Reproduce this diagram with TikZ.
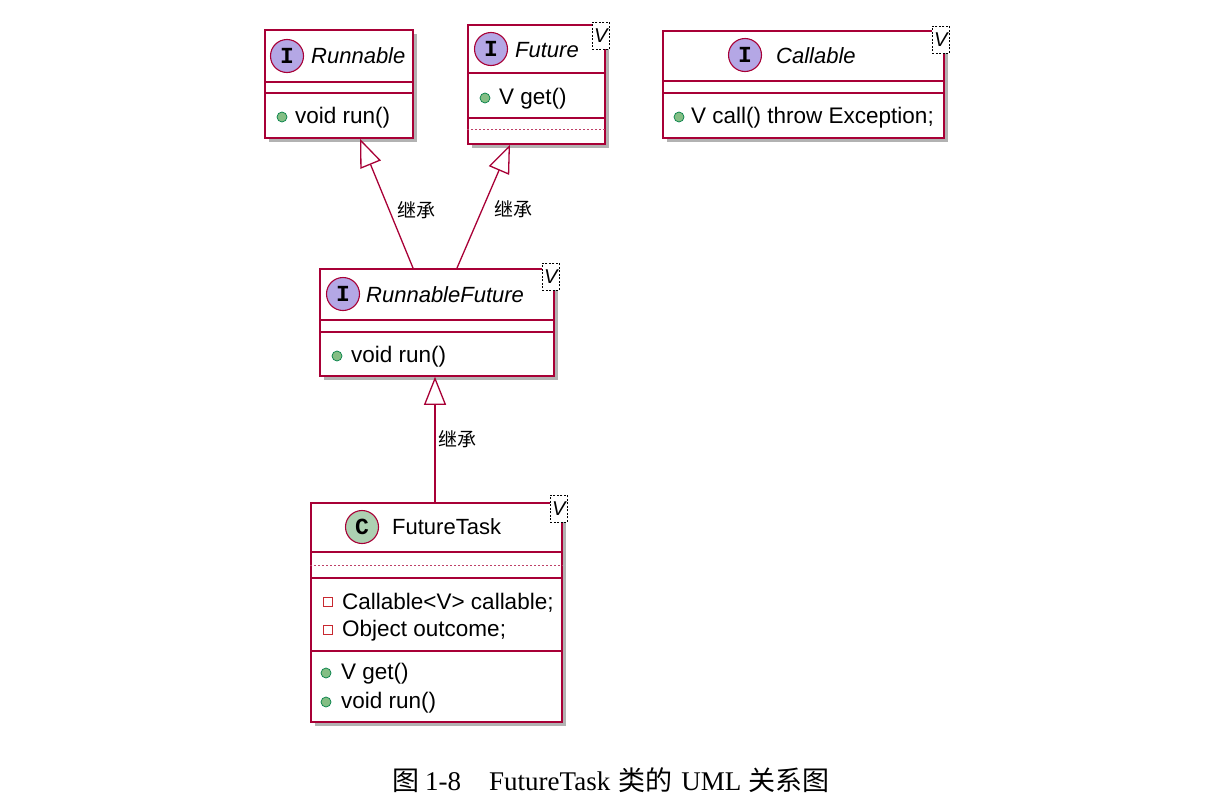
\documentclass[tikz,border=0pt]{standalone}
\usepackage{fontspec}
\setmainfont{Liberation Sans}
\newfontfamily\cjk{Noto Sans CJK SC}
\newfontfamily\capfont{Liberation Serif}
\newfontfamily\badgefont{Liberation Mono}
\usetikzlibrary{arrows.meta,calc,shadows}
\definecolor{umlred}{HTML}{A80036}
\definecolor{ifill}{HTML}{B4A7E5}
\definecolor{cfill}{HTML}{ADD1B2}
\definecolor{pubfill}{HTML}{84BE84}
\definecolor{pubdraw}{HTML}{038048}
\definecolor{privdraw}{HTML}{C82930}
\newcommand{\capcjk}{\cjk\fontsize{27}{27}\selectfont}

\tikzset{
	classbox/.style={draw=umlred, fill=white, line width=1.8pt, anchor=north west, inner sep=0pt,
		drop shadow={shadow xshift=4pt, shadow yshift=-4pt, opacity=.3, fill=black}},
	cline/.style={umlred, line width=1.5pt},
	dline/.style={umlred!75, line width=1pt, dash pattern=on 2pt off 2pt},
	badge/.style={circle, draw=umlred, line width=1.1pt, minimum size=33pt, inner sep=0pt,
		font=\badgefont\bfseries\fontsize{23}{23}\selectfont},
	clsname/.style={anchor=west, inner sep=0pt, font=\itshape\fontsize{22}{26}\selectfont},
	member/.style={anchor=west, inner sep=0pt, font=\fontsize{22.5}{26}\selectfont},
	pub/.style={circle, draw=pubdraw, fill=pubfill, minimum size=10pt, inner sep=0pt, line width=0.7pt},
	priv/.style={rectangle, draw=privdraw, fill=white, minimum size=9pt, inner sep=0pt, line width=1pt},
	tmpl/.style={draw=black, dash pattern=on 2pt off 1.5pt, line width=0.8pt, fill=white, anchor=north west,
		minimum width=17pt, minimum height=27pt, inner sep=0pt, font=\itshape\fontsize{20}{20}\selectfont},
	extends/.style={umlred, line width=1.3pt, -{Triangle[length=28pt, width=22pt, fill=white]}},
	jc/.style={anchor=west, inner sep=0pt, text=black, font=\cjk\fontsize{19}{19}\selectfont},
}

\begin{document}
\begin{tikzpicture}[x=1pt, y=-1pt]
\useasboundingbox (0,0) rectangle (1212,806);

% Runnable
\node[classbox, minimum width=148pt, minimum height=108pt] (runnable) at (264,29) {};
\draw[cline] ([yshift=-53pt]runnable.north west) -- ([yshift=-53pt]runnable.north east);
\draw[cline] ([yshift=-64pt]runnable.north west) -- ([yshift=-64pt]runnable.north east);
\node[badge, fill=ifill] (runnableI) at (287,56) {I};
\node[clsname] (runnableN) at (311,56) {Runnable};
\node[pub] (runnableM) at (282,117) {};
\node[member] at (295,118) {void run()};

% Future
\node[classbox, minimum width=137pt, minimum height=119pt] (future) at (467,24) {};
\draw[cline] ([yshift=-49pt]future.north west) -- ([yshift=-49pt]future.north east);
\draw[cline] ([yshift=-94pt]future.north west) -- ([yshift=-94pt]future.north east);
\draw[dline] ([yshift=-105pt]future.north west) -- ([yshift=-105pt]future.north east);
\node[badge, fill=ifill] (futureI) at (491,49) {I};
\node[clsname] (futureN) at (515,50) {Future};
\node[pub] (futureM) at (485,98) {};
\node[member] at (499,99) {V get()};
\node[tmpl] (futureV) at (592,22) {V};

% Callable
\node[classbox, minimum width=281pt, minimum height=107pt] (callable) at (662,30) {};
\draw[cline] ([yshift=-51pt]callable.north west) -- ([yshift=-51pt]callable.north east);
\draw[cline] ([yshift=-63pt]callable.north west) -- ([yshift=-63pt]callable.north east);
\node[badge, fill=ifill] (callableI) at (745,55) {I};
\node[clsname] (callableN) at (776,56) {Callable};
\node[pub] (callableM) at (679,117) {};
\node[member] at (691,118) {V call() throw Exception;};
\node[tmpl] (callableV) at (932,26) {V};

% RunnableFuture
\node[classbox, minimum width=234pt, minimum height=107pt] (rf) at (319,268) {};
\draw[cline] ([yshift=-52pt]rf.north west) -- ([yshift=-52pt]rf.north east);
\draw[cline] ([yshift=-64pt]rf.north west) -- ([yshift=-64pt]rf.north east);
\node[badge, fill=ifill] (rfI) at (343,294) {I};
\node[clsname] (rfN) at (366,295) {RunnableFuture};
\node[pub] (rfM) at (337,356) {};
\node[member] at (351,357) {void run()};
\node[tmpl] (rfV) at (542,263) {V};

% FutureTask
\node[classbox, minimum width=251pt, minimum height=219pt] (ft) at (310,502) {};
\draw[cline] ([yshift=-50pt]ft.north west) -- ([yshift=-50pt]ft.north east);
\draw[dline] ([yshift=-63pt]ft.north west) -- ([yshift=-63pt]ft.north east);
\draw[cline] ([yshift=-76pt]ft.north west) -- ([yshift=-76pt]ft.north east);
\draw[cline] ([yshift=-149pt]ft.north west) -- ([yshift=-149pt]ft.north east);
\node[badge, fill=cfill] (ftC) at (362,527) {C};
\node[clsname, font=\fontsize{22}{26}\selectfont] (ftN) at (392,527) {FutureTask};
\node[priv] (ftF1) at (328,602) {};
\node[member] at (342,603) {Callable<V> callable;};
\node[priv] (ftF2) at (328,630) {};
\node[member] at (342,631) {Object outcome;};
\node[pub] (ftM1) at (326,673) {};
\node[member] at (341,674) {V get()};
\node[pub] (ftM2) at (326,702) {};
\node[member] at (341,703) {void run()};
\node[tmpl] (ftV) at (550,495) {V};

% inheritance
\draw[extends] ([xshift=94pt]rf.north west) -- node[jc, pos=0.45, xshift=8pt] {继承} ([xshift=96pt]runnable.south west);
\draw[extends] ([xshift=138pt]rf.north west) -- node[jc, pos=0.48, xshift=11pt] {继承} ([xshift=43pt]future.south west);
\draw[extends] ([xshift=125pt]ft.north west) -- node[jc, midway, xshift=3pt] {继承} ([xshift=116pt]rf.south west);

% caption
\node[anchor=west, inner sep=0pt, font=\capfont\fontsize{27}{27}\selectfont] (caption) at (392,780)
	{{\capcjk 图}\hspace{6pt}1-8\hspace{28pt}FutureTask\hspace{8pt}{\capcjk 类的}\hspace{9pt}UML\hspace{7pt}{\capcjk 关系图}};
\end{tikzpicture}
\end{document}
